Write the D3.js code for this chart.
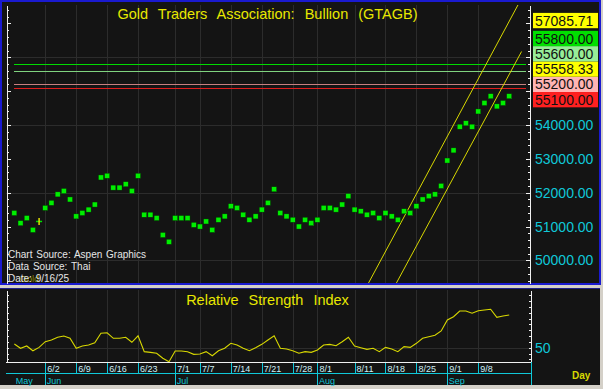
<!DOCTYPE html>
<html>
<head>
<meta charset="utf-8">
<script src="https://cdn.jsdelivr.net/npm/d3@7"></script>
<style>
  html, body { margin: 0; padding: 0; background: #d4d0c8; }
  svg { display: block; font-family: "Liberation Sans", Arial, sans-serif; }
</style>
</head>
<body>
<div id="chart"></div>
<script>
// trading days (weekdays) from 5/26 to a few days past the last close, for the channel projection
const tradingDays = d3.timeDay.range(new Date(2025, 4, 26), new Date(2025, 8, 20))
  .filter(d => d.getDay() > 0 && d.getDay() < 6);
const dayKeys = tradingDays.map(d3.timeFormat("%-m/%-d"));

// daily closes, 5/26 .. 9/15
const closes = [
  51400, 51100, 51250, 50900, 51150,
  51550, 51700, 51950, 52050, 51800,
  51300, 51400, 51500, 51650, 52450,
  52500, 52150, 52150, 52250, 52050,
  52500, 51350, 51350, 51250, 50750,
  50550,
  51250, 51250, 51250, 51050,
  51000, 51150, 50900, 51200, 51300,
  51600, 51550, 51350, 51200, 51300,
  51500, 51700, 52100, 51400, 51300,
  51200, 51000, 51200, 51100,
  51200,
  51550, 51550, 51500, 51650, 51900,
  51500, 51450, 51350, 51400, 51250,
  51400, 51300, 51200, 51450, 51400,
  51600, 51800, 51900, 51950, 52200,
  52950, 53250, 53950, 54050, 53950,
  54400, 54650, 54850, 54550, 54650,
  54850
];

// relative strength index, same days
const rsiValues = [
  53.2, 49.5, 51.5, 47.4, 50.3,
  55.2, 56.6, 59.0, 60.1, 58.1,
  49.5, 51.5, 52.3, 54.3, 62.4,
  62.9, 58.1, 58.1, 59.0, 54.7,
  60.3, 46.6, 46.0, 45.2, 40.9,
  37.9,
  47.2, 47.2, 46.6, 44.3,
  44.6, 46.6, 43.1, 47.4, 49.5,
  53.8, 52.3, 49.5, 47.4, 50.0,
  52.9, 56.6, 60.3, 49.5, 48.9,
  47.4, 45.2, 46.6, 46.0,
  48.0,
  52.3, 52.9, 51.7, 55.2, 59.0,
  51.5, 50.0, 48.6, 49.5, 46.6,
  50.3, 48.9, 46.6, 50.9, 50.3,
  53.8, 58.1, 59.5, 60.7, 64.4,
  73.9, 76.7, 81.6, 81.6, 79.7,
  81.9, 82.5, 83.1, 76.2, 77.3,
  78.2
];

const cursorDay = "5/30";

// horizontal levels, in the order their labels get placed
const levelValues = [57085.71, 55200, 55100, 55558.33, 55600, 55800];
const levelFills = ["#ffff00", "#ffb4b4", "#ff2020", "#ffff00", "#98ec98", "#00e000"];
const levelLines = [null, "#c88080", "#e01c1c", null, "#80d480", "#00dc00"];

// trend channel end points [day, value]
const channelUpper = [["8/11", 48564], ["9/17", 57744]];
const channelLower = [["8/11", 47045], ["9/17", 56171]];

// axis labels
const weekTicks = ["6/2", "6/9", "6/16", "6/23", "7/1", "7/7", "7/14", "7/21", "7/28",
                   "8/1", "8/11", "8/18", "8/25", "9/1", "9/8"];
const monthNames = ["May", "Jun", "Jul", "Aug", "Sep"];
const monthStarts = ["5/26", "6/2", "7/1", "8/1", "9/1"];
const priceLabels = [50000, 51000, 52000, 53000, 54000, 55000, 56000, 57000];
const priceGrid = [50000, 52000, 54000, 56000];
const rsiLabels = [50];

const W = 603, H = 389;
const plot = { left: 6, right: 529, top: 5, bottom: 283 };
const rsiPlot = { top: 290, bottom: 362 };

const CYAN = "#10c8d8";
const GRID = "#2c2c2c";

const pos = key => dayKeys.indexOf(key);

const x = d3.scaleLinear().domain([-1.35, 83.2]).range([plot.left, plot.right]);
const y = d3.scaleLinear().domain([49332, 57545]).range([plot.bottom, plot.top]);
const yRsi = d3.scaleLinear().domain([37.7, 99.7]).range([rsiPlot.bottom, rsiPlot.top]);

const svg = d3.select("#chart").append("svg")
  .attr("width", W).attr("height", H);

// frames
svg.append("rect").attr("width", W).attr("height", H).attr("fill", "#d4d0c8");
svg.append("rect")
  .attr("x", 1).attr("y", 1).attr("width", 599).attr("height", 283)
  .attr("fill", "#141414").attr("stroke", "#1a1ad0").attr("stroke-width", 2);
svg.append("rect")
  .attr("x", 0).attr("y", 288).attr("width", 600).attr("height", 97)
  .attr("fill", "#141414");
svg.append("line")
  .attr("x1", 0).attr("x2", 600).attr("y1", 288.5).attr("y2", 288.5)
  .attr("stroke", "#20208a");

// grid
const grid = svg.append("g").attr("stroke", GRID).attr("shape-rendering", "crispEdges");
grid.selectAll(".vmain").data(weekTicks).enter().append("line")
  .attr("x1", d => Math.round(x(pos(d))) + 0.5).attr("x2", d => Math.round(x(pos(d))) + 0.5)
  .attr("y1", plot.top).attr("y2", plot.bottom);
grid.selectAll(".vrsi").data(weekTicks).enter().append("line")
  .attr("x1", d => Math.round(x(pos(d))) + 0.5).attr("x2", d => Math.round(x(pos(d))) + 0.5)
  .attr("y1", rsiPlot.top).attr("y2", rsiPlot.bottom);
grid.selectAll(".hmain").data(priceGrid).enter().append("line")
  .attr("x1", plot.left).attr("x2", plot.right)
  .attr("y1", d => Math.round(y(d)) + 0.5).attr("y2", d => Math.round(y(d)) + 0.5);
grid.selectAll(".hrsi").data(rsiLabels).enter().append("line")
  .attr("x1", plot.left).attr("x2", plot.right + 1)
  .attr("y1", d => Math.round(yRsi(d)) + 0.5).attr("y2", d => Math.round(yRsi(d)) + 0.5);

// level lines
svg.append("g").attr("shape-rendering", "crispEdges")
  .selectAll("line")
  .data(levelValues.map((v, i) => ({ v, c: levelLines[i] })).filter(d => d.c))
  .enter().append("line")
  .attr("x1", x(0)).attr("x2", plot.right - 3)
  .attr("y1", d => Math.round(y(d.v)) + 0.5).attr("y2", d => Math.round(y(d.v)) + 0.5)
  .attr("stroke", d => d.c).attr("stroke-width", 1.5);

// channel, clipped to the plot
svg.append("clipPath").attr("id", "clip-main")
  .append("rect").attr("x", plot.left).attr("y", plot.top)
  .attr("width", plot.right - plot.left).attr("height", plot.bottom - plot.top);
const chanLine = d3.line().x(d => x(pos(d[0]))).y(d => y(d[1]));
svg.append("g").attr("clip-path", "url(#clip-main)")
  .selectAll("path").data([channelUpper, channelLower]).enter().append("path")
  .attr("d", chanLine).attr("fill", "none").attr("stroke", "#d8d800").attr("stroke-width", 1);

// close markers
const pts = closes.map((v, i) => ({ i, v, key: dayKeys[i] }));
svg.append("g").selectAll("rect")
  .data(pts.filter(d => d.key !== cursorDay)).enter().append("rect")
  .attr("x", d => x(d.i) - 2.5).attr("y", d => y(d.v) - 2.5)
  .attr("width", 5).attr("height", 5)
  .attr("fill", "#00ee00").attr("stroke", "#003300").attr("stroke-width", 0.4);
const cur = pts.find(d => d.key === cursorDay);
svg.append("line")
  .attr("x1", x(cur.i) - 3).attr("x2", x(cur.i) + 3)
  .attr("y1", y(cur.v)).attr("y2", y(cur.v))
  .attr("stroke", "#00e000").attr("stroke-width", 1.5);
svg.append("line")
  .attr("x1", x(cur.i)).attr("x2", x(cur.i))
  .attr("y1", y(cur.v) - 3.5).attr("y2", y(cur.v) + 3.5)
  .attr("stroke", "#e0e000").attr("stroke-width", 1.5);

// white axes with ticks every 200
function priceAxis(axisFn, xPos) {
  const g = svg.append("g").attr("transform", `translate(${xPos},0)`)
    .attr("shape-rendering", "crispEdges");
  g.call(axisFn(y).tickValues(d3.range(49400, 57600, 200)).tickSize(2).tickSizeOuter(0).tickFormat(""));
  g.append("g").call(axisFn(y).tickValues(priceLabels).tickSize(4).tickSizeOuter(0).tickFormat(""))
    .select(".domain").remove();
  g.selectAll("path, line").attr("stroke", "#f0f0f0");
}
priceAxis(d3.axisRight, plot.left + 0.5);
priceAxis(d3.axisLeft, plot.right + 0.5);

function rsiAxis(axisFn, xPos) {
  const g = svg.append("g").attr("transform", `translate(${xPos},0)`)
    .attr("shape-rendering", "crispEdges");
  g.call(axisFn(yRsi).tickValues(d3.range(40, 100, 5)).tickSize(2).tickSizeOuter(0).tickFormat(""));
  g.selectAll("path, line").attr("stroke", "#f0f0f0");
}
rsiAxis(d3.axisRight, plot.left + 0.5);
rsiAxis(d3.axisLeft, plot.right + 1.5);

// place each level box at the nearest free spot
const boxH = 15.3;
const placed = [];
levelValues.forEach((v, i) => {
  const ideal = y(v);
  const cands = [ideal];
  placed.forEach(p => { cands.push(p.c - boxH); cands.push(p.c + boxH); });
  const free = cands.filter(c => placed.every(p => Math.abs(p.c - c) >= boxH - 0.01));
  free.sort((a, b) => Math.abs(a - ideal) - Math.abs(b - ideal));
  placed.push({ c: free[0], v, fill: levelFills[i] });
});

// cyan price labels (the ones sitting under a level box are not shown), then the boxes
const shownLabels = priceLabels.filter(v =>
  placed.every(p => Math.abs(p.c - y(v)) > boxH / 2 + 1));
svg.append("g").selectAll("text").data(shownLabels).enter().append("text")
  .attr("x", 535).attr("y", d => y(d)).attr("dy", "0.36em")
  .attr("font-size", 14).attr("fill", CYAN)
  .text(d3.format(".2f"));

const boxes = svg.append("g").selectAll("g").data(placed).enter().append("g");
boxes.append("rect")
  .attr("x", 533).attr("y", d => d.c - boxH / 2).attr("width", 65).attr("height", boxH)
  .attr("fill", d => d.fill);
boxes.append("text")
  .attr("x", 535).attr("y", d => d.c).attr("dy", "0.36em")
  .attr("font-size", 14).attr("fill", "#101010")
  .text(d => d3.format(".2f")(d.v));

// titles
svg.append("text").attr("x", (plot.left + plot.right) / 2).attr("y", 19)
  .attr("text-anchor", "middle").attr("font-size", 14.5).attr("word-spacing", 6)
  .attr("fill", "#e8e800").text("Gold Traders Association: Bullion (GTAGB)");
svg.append("text").attr("x", (plot.left + plot.right) / 2).attr("y", 305)
  .attr("text-anchor", "middle").attr("font-size", 14.5).attr("word-spacing", 6)
  .attr("fill", "#e8e800").text("Relative Strength Index");

// source notes
svg.append("text").attr("x", 20).attr("y", 281.5).attr("font-size", 9)
  .attr("fill", "#8a8a00").text("Gold");
const notes = ["Chart Source: Aspen Graphics", "Data Source: Thai", "Date: 9/16/25"];
svg.append("g").selectAll("text").data(notes).enter().append("text")
  .attr("x", 8).attr("y", (d, i) => 257.5 + i * 12)
  .attr("font-size", 10).attr("word-spacing", 1).attr("fill", "#e6e6e6")
  .text(d => d);

// RSI line
svg.append("path")
  .datum(rsiValues)
  .attr("d", d3.line().x((d, i) => x(i)).y(d => yRsi(d)))
  .attr("fill", "none").attr("stroke", "#d8d800").attr("stroke-width", 1.1);

svg.append("text").attr("x", 535).attr("y", yRsi(50)).attr("dy", "0.36em")
  .attr("font-size", 14).attr("fill", CYAN).text("50");

// date axis
const dax = svg.append("g").attr("shape-rendering", "crispEdges");
dax.append("line").attr("x1", plot.left).attr("x2", plot.right + 2)
  .attr("y1", rsiPlot.bottom + 0.5).attr("y2", rsiPlot.bottom + 0.5).attr("stroke", "#f0f0f0");
dax.append("line").attr("x1", plot.left).attr("x2", plot.right + 2)
  .attr("y1", 373.5).attr("y2", 373.5).attr("stroke", CYAN);
dax.selectAll(".wk").data(weekTicks).enter().append("line")
  .attr("x1", d => Math.round(x(pos(d))) + 0.5).attr("x2", d => Math.round(x(pos(d))) + 0.5)
  .attr("y1", rsiPlot.bottom + 1).attr("y2", 373.5).attr("stroke", CYAN);
dax.selectAll(".mo").data(monthStarts.slice(1)).enter().append("line")
  .attr("x1", d => Math.round(x(pos(d))) + 0.5).attr("x2", d => Math.round(x(pos(d))) + 0.5)
  .attr("y1", 373.5).attr("y2", 385).attr("stroke", CYAN);
dax.append("line").attr("x1", plot.right + 2.5).attr("x2", plot.right + 2.5)
  .attr("y1", rsiPlot.bottom).attr("y2", 385).attr("stroke", CYAN);
svg.append("g").selectAll("text").data(weekTicks).enter().append("text")
  .attr("x", d => x(pos(d)) + 2).attr("y", 372)
  .attr("font-size", 9).attr("fill", "#cfeff4").text(d => d);
svg.append("g").selectAll("text").data(monthNames).enter().append("text")
  .attr("x", (d, i) => x(pos(monthStarts[i])) + 1.5).attr("y", 384)
  .attr("font-size", 9).attr("fill", CYAN).text(d => d);

svg.append("text").attr("x", 572).attr("y", 379)
  .attr("font-size", 10).attr("font-weight", "bold").attr("fill", "#d8d800").text("Day");
</script>
</body>
</html>
